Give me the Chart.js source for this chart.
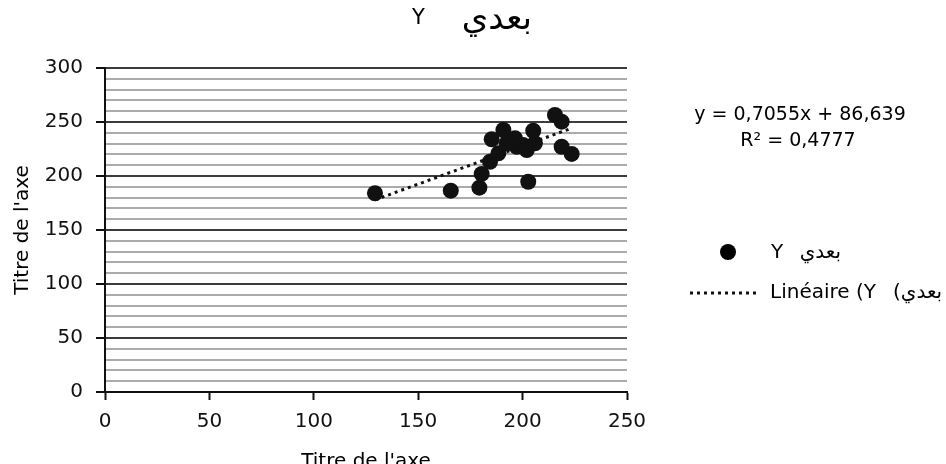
<!DOCTYPE html>
<html>
<head>
<meta charset="utf-8">
<script src="https://cdn.jsdelivr.net/npm/chart.js@4.4.1/dist/chart.umd.min.js"></script>
<style>
  html, body { margin: 0; padding: 0; background: #fff; }
  #wrap { width: 946px; height: 464px; }
</style>
</head>
<body>
<div id="wrap"><canvas id="scatterChart" width="946" height="464"></canvas></div>
<script>
// series name (arabic part) and labels
const seriesArabic = 'بعدي';
const seriesLatin = 'Y';
const axisTitle = "Titre de l'axe";
const trendLabel = 'Linéaire (Y';
const equationLines = ['y = 0,7055x + 86,639', 'R² = 0,4777'];

// scatter values
const xValues = [129.3, 165.6, 179.3, 180.4, 184.4, 185.2, 190.8, 188.4, 196.4, 197.2,
                 192.4, 200.2, 202.0, 205.1, 205.9, 202.7, 215.5, 218.7, 218.7, 223.5];
const yValues = [184.0, 186.4, 189.2, 201.9, 213.2, 234.0, 242.6, 221.0, 234.9, 227.1,
                 230.3, 228.7, 224.1, 241.9, 230.3, 194.7, 256.5, 250.3, 227.1, 220.4];

// trend line end points
const trendX = [129.3, 223.5];
const trendY = [177.9, 244.3];

const FONT = "'DejaVu Sans', Verdana, sans-serif";

window.addEventListener('load', function() {
  const points = xValues.map((x, i) => ({ x: x, y: yValues[i] }));
  const trend = trendX.map((x, i) => ({ x: x, y: trendY[i] }));

  // title, equation and legend drawn on top of the chart
  const overlay = {
    id: 'overlay',
    afterDraw(chart) {
      const ctx = chart.ctx;
      ctx.save();
      ctx.fillStyle = '#000';
      ctx.textBaseline = 'middle';

      // title
      ctx.font = '21px ' + FONT;
      ctx.textAlign = 'left';
      ctx.fillText(seriesLatin, 412, 19);
      ctx.font = '34px ' + FONT;
      ctx.textAlign = 'right';
      ctx.fillText(seriesArabic, 532, 20);

      // trend equation
      ctx.font = '19px ' + FONT;
      ctx.textAlign = 'center';
      ctx.fillText(equationLines[0], 800, 115);
      ctx.fillText(equationLines[1], 798, 141);

      // legend: points
      ctx.beginPath();
      ctx.arc(728, 252, 8, 0, Math.PI * 2);
      ctx.fill();
      ctx.font = '20px ' + FONT;
      ctx.textAlign = 'left';
      ctx.fillText(seriesLatin, 771, 253);
      ctx.textAlign = 'right';
      ctx.fillText(seriesArabic, 841, 253);

      // legend: trend line
      ctx.strokeStyle = '#111';
      ctx.lineWidth = 3;
      ctx.setLineDash([3, 4]);
      ctx.beginPath();
      ctx.moveTo(690, 293);
      ctx.lineTo(758, 293);
      ctx.stroke();
      ctx.setLineDash([]);
      ctx.textAlign = 'left';
      ctx.fillText(trendLabel, 770, 293);
      ctx.fillText('(' + seriesArabic, 893, 293);
      ctx.restore();
    }
  };

  const ctx = document.getElementById('scatterChart').getContext('2d');
  new Chart(ctx, {
    type: 'scatter',
    data: {
      datasets: [
        {
          label: seriesLatin + ' ' + seriesArabic,
          data: points,
          backgroundColor: '#111',
          borderWidth: 0,
          pointRadius: 8,
          pointHoverRadius: 8,
          order: 1,
        },
        {
          type: 'line',
          label: trendLabel,
          data: trend,
          borderColor: '#111',
          borderWidth: 3,
          borderDash: [3, 4],
          pointRadius: 0,
          fill: false,
          order: 0,
        },
      ],
    },
    options: {
      responsive: false,
      animation: false,
      layout: { padding: { top: 68, right: 319, bottom: 0, left: 0 } },
      plugins: {
        legend: { display: false },
        tooltip: { enabled: false },
        title: { display: false },
      },
      scales: {
        x: {
          type: 'linear',
          min: 0,
          max: 250,
          afterFit: (scale) => { scale.height = 72; },
          ticks: {
            stepSize: 50,
            color: '#111',
            font: { family: FONT, size: 20 },
            padding: 10,
          },
          grid: {
            drawOnChartArea: false,
            drawTicks: true,
            tickLength: 8,
            tickColor: '#111',
            tickWidth: 2,
          },
          border: { display: true, color: '#111', width: 2 },
          title: {
            display: true,
            text: axisTitle,
            color: '#000',
            font: { family: FONT, size: 20 },
            padding: { top: 0, bottom: -10 },
          },
        },
        y: {
          min: 0,
          max: 300,
          afterFit: (scale) => { scale.width = 105; },
          ticks: {
            stepSize: 10,
            autoSkip: false,
            color: '#111',
            font: { family: FONT, size: 20 },
            padding: 13,
            callback: (value) => (value % 50 === 0 ? value : ''),
          },
          grid: {
            color: (c) => (c.tick && c.tick.value % 50 === 0 ? '#3c3c3c' : '#ababab'),
            lineWidth: 2,
            drawTicks: true,
            tickLength: 9,
            tickColor: (c) => (c.tick && c.tick.value % 50 === 0 ? '#111' : 'rgba(0,0,0,0)'),
            tickWidth: 2,
          },
          border: { display: true, color: '#111', width: 2 },
          title: {
            display: true,
            text: axisTitle,
            color: '#000',
            font: { family: FONT, size: 20 },
            padding: { top: 11, bottom: 0 },
          },
        },
      },
    },
    plugins: [overlay],
  });
});
</script>
</body>
</html>
